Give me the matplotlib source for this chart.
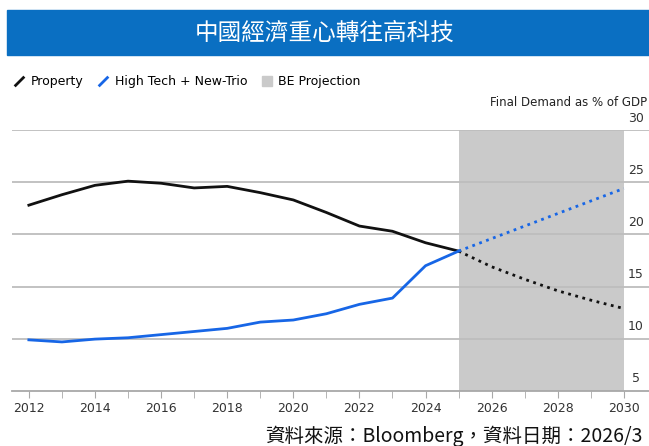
import numpy as np
import matplotlib.pyplot as plt
from matplotlib.lines import Line2D
from matplotlib import transforms

years = np.arange(2012, 2026)
property_hist = [22.8, 23.8, 24.7, 25.1, 24.9, 24.45, 24.6, 24.0, 23.3, 22.1, 20.8, 20.3, 19.2, 18.4]
hightech_hist = [9.9, 9.7, 9.97, 10.1, 10.4, 10.7, 11.0, 11.6, 11.8, 12.4, 13.3, 13.9, 17.0, 18.4]

proj_years = np.arange(2025, 2031)
property_proj = [18.4, 16.9, 15.7, 14.6, 13.7, 12.9]
hightech_proj = [18.4, 19.6, 20.8, 22.0, 23.2, 24.4]

proj_span = (2025, 2030)
y_ticks = [5, 10, 15, 20, 25, 30]
x_labels = list(range(2012, 2031, 2))

title = "中國經濟重心轉往高科技"
source = "資料來源：Bloomberg，資料日期：2026/3"

black = "#111111"
blue = "#1766e6"
band = "#cacaca"
grid = "#bdbdbd"

fig = plt.figure(figsize=(6.49, 4.46), dpi=100)

# title banner
fig.patches.append(plt.Rectangle((7 / 649, 1 - 55 / 446), 1, 45 / 446,
                                 transform=fig.transFigure, color="#0a6fc2", zorder=0))
fig.text(0.5, 1 - 33 / 446, title, color="white", fontsize=17, ha="center", va="center",
         family=["Noto Sans CJK TC", "DejaVu Sans"])

ax = fig.add_axes([12 / 649, 55 / 446, 637 / 649, 261 / 446])
ax.axvspan(*proj_span, color=band, zorder=0, lw=0)
for v in y_ticks[1:]:
    ax.axhline(v, color=grid, lw=1.3, zorder=1)

ax.plot(years, property_hist, color=black, lw=2, zorder=3)
ax.plot(proj_years, property_proj, color=black, lw=2, ls=":", zorder=3)
ax.plot(years, hightech_hist, color=blue, lw=2, zorder=3)
ax.plot(proj_years, hightech_proj, color=blue, lw=2, ls=":", zorder=3)

ax.set_xlim(2011.49, 2030.76)
ax.set_ylim(5, 30)
for s in ["top", "right", "left"]:
    ax.spines[s].set_visible(False)
ax.spines["bottom"].set_color("#a8a8a8")
ax.spines["bottom"].set_linewidth(1.3)
ax.set_yticks([])
ax.set_xticks(x_labels)
ax.set_xticks(range(2012, 2031), minor=True)
ax.tick_params(axis="x", which="both", length=5, color="#a8a8a8", labelsize=9,
               labelcolor="#333333", pad=3)

# right-side value labels sitting above the gridlines
off = transforms.offset_copy(ax.get_yaxis_transform(), fig=fig, x=0, y=12, units="dots")
for v in y_ticks:
    ax.text(0.979, v, str(v), transform=off, ha="center", va="center",
            fontsize=9, color="#333333", clip_on=False)
fig.text(647 / 649, 1 - 103 / 446, "Final Demand as % of GDP", fontsize=8.5,
         color="#222222", va="center", ha="right")

handles = [
    Line2D([], [], color=black, marker=[(-1, -1), (1, 1)], ls="None", markersize=7, mew=2),
    Line2D([], [], color=blue, marker=[(-1, -1), (1, 1)], ls="None", markersize=7, mew=2),
    Line2D([], [], color=band, marker="s", ls="None", markersize=7),
]
fig.legend(handles, ["Property", "High Tech + New-Trio", "BE Projection"],
           loc="center left", bbox_to_anchor=(0.005, 1 - 82 / 446), ncol=3, frameon=False,
           fontsize=9, handlelength=0.8, handletextpad=0.5, columnspacing=1.2)

fig.text(643 / 649, 1 - 436 / 446, source, fontsize=14, ha="right", va="center",
         family=["Noto Sans CJK TC", "DejaVu Sans"], color="#111111")

fig.savefig("out.png", dpi=100)
